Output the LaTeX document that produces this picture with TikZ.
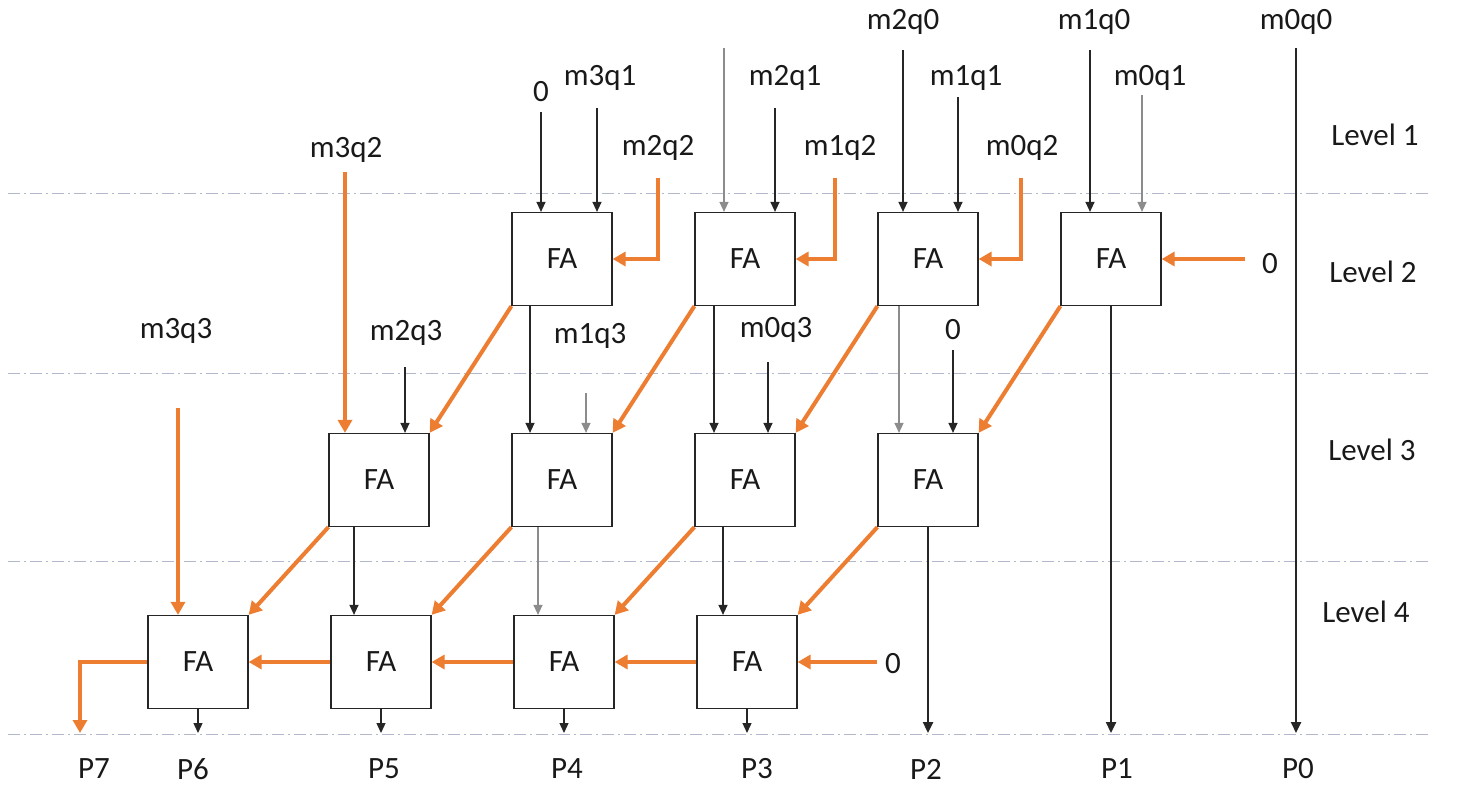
\documentclass[tikz,border=0pt]{standalone}
\usepackage{fontspec}
\setmainfont{Carlito}
\usetikzlibrary{arrows.meta,calc}
\definecolor{orng}{RGB}{237,125,49}
\definecolor{lvlc}{RGB}{178,184,204}
\begin{document}
\begin{tikzpicture}[x=0.5pt,y=-0.5pt,
  fa/.style={draw=black!85,line width=0.6pt,minimum width=50pt,minimum height=46.5pt,
    inner sep=0pt,font=\fontsize{15.5}{16}\selectfont,text=black!90},
  lbl/.style={font=\fontsize{15.5}{16}\selectfont,inner sep=0pt,text=black!90},
  blk/.style={draw=black!85,line width=0.65pt,-{Triangle[length=5pt,width=4.5pt]}},
  gry/.style={draw=black!45,line width=0.65pt,-{Triangle[length=5pt,width=4.5pt]}},
  thk/.style={draw=black!85,line width=1.2pt,-{Triangle[length=5.5pt,width=5pt]}},
  org/.style={draw=orng,line width=2pt,-{Triangle[length=6.5pt,width=7pt]}},
  lvl/.style={draw=lvlc,line width=0.5pt,dash pattern=on 6pt off 2pt on 1pt off 2pt}]

\useasboundingbox (0,0) rectangle (1478,787);

% level separators
\coordinate (l1a) at (8,193);  \coordinate (l1b) at (1430,193);
\coordinate (l2a) at (8,373);  \coordinate (l2b) at (1430,373);
\coordinate (l3a) at (8,561);  \coordinate (l3b) at (1430,561);
\coordinate (l4a) at (8,734);  \coordinate (l4b) at (1430,734);
\draw[lvl] (l1a) -- (l1b);
\draw[lvl] (l2a) -- (l2b);
\draw[lvl] (l3a) -- (l3b);
\draw[lvl] (l4a) -- (l4b);
\coordinate (bot) at (0,733);

% level labels
\node[lbl] (lv1) at (1375,135) {Level 1};
\node[lbl] (lv2) at (1373,272) {Level 2};
\node[lbl] (lv3) at (1372,450) {Level 3};
\node[lbl] (lv4) at (1366,612) {Level 4};

% full adders
\node[fa] (B1) at (562,259) {FA};
\node[fa] (B2) at (745,259) {FA};
\node[fa] (B3) at (928,259) {FA};
\node[fa] (B4) at (1111,259) {FA};
\node[fa] (C1) at (379,480) {FA};
\node[fa] (C2) at (562,480) {FA};
\node[fa] (C3) at (745,480) {FA};
\node[fa] (C4) at (928,480) {FA};
\node[fa] (D1) at (198,662) {FA};
\node[fa] (D2) at (381,662) {FA};
\node[fa] (D3) at (564,662) {FA};
\node[fa] (D4) at (747,662) {FA};

% partial product labels
\node[lbl] (t20) at (903,22) {m2q0};
\node[lbl] (t10) at (1094,22) {m1q0};
\node[lbl] (t00) at (1296,22) {m0q0};
\node[lbl] (tz1) at (541,92) {0};
\node[lbl] (t31) at (600,78) {m3q1};
\node[lbl] (t21) at (785,78) {m2q1};
\node[lbl] (t11) at (966,78) {m1q1};
\node[lbl] (t01) at (1150,78) {m0q1};
\node[lbl] (t32) at (346,150) {m3q2};
\node[lbl] (t22) at (658,148) {m2q2};
\node[lbl] (t12) at (840,148) {m1q2};
\node[lbl] (t02) at (1022,148) {m0q2};
\node[lbl] (t33) at (176,331) {m3q3};
\node[lbl] (t23) at (406,333) {m2q3};
\node[lbl] (t13) at (590,336) {m1q3};
\node[lbl] (t03) at (776,330) {m0q3};
\node[lbl] (tz3) at (953,330) {0};
\node[lbl] (tz2) at (1270,264) {0};
\node[lbl] (tz4) at (893,664) {0};

% product labels
\node[lbl] (P7) at (94,769) {P7};
\node[lbl] (P6) at (193,769) {P6};
\node[lbl] (P5) at (384,769) {P5};
\node[lbl] (P4) at (567,769) {P4};
\node[lbl] (P3) at (757,769) {P3};
\node[lbl] (P2) at (926,769) {P2};
\node[lbl] (P1) at (1117,769) {P1};
\node[lbl] (P0) at (1298,769) {P0};

% level 2 inputs
\coordinate (a1) at (541,112);  \draw[blk] (a1) -- (a1 |- B1.north);
\coordinate (a2) at (597,108);  \draw[blk] (a2) -- (a2 |- B1.north);
\coordinate (a3) at (724,48);   \draw[gry] (a3) -- (a3 |- B2.north);
\coordinate (a4) at (775,108);  \draw[blk] (a4) -- (a4 |- B2.north);
\coordinate (a5) at (903,50);   \draw[blk] (a5) -- (a5 |- B3.north);
\coordinate (a6) at (958,97);   \draw[blk] (a6) -- (a6 |- B3.north);
\coordinate (a7) at (1090,50);  \draw[blk] (a7) -- (a7 |- B4.north);
\coordinate (a8) at (1142,95);  \draw[gry] (a8) -- (a8 |- B4.north);
\coordinate (o1) at (658,178);  \draw[org] (o1) |- (B1.east);
\coordinate (o2) at (835,178);  \draw[org] (o2) |- (B2.east);
\coordinate (o3) at (1021,178); \draw[org] (o3) |- (B3.east);
\coordinate (o4) at (1245,259); \draw[org] (o4) -- (B4.east);

% level 3 inputs
\coordinate (b1) at (345,172);  \draw[org] (b1) -- (b1 |- C1.north);
\coordinate (b2) at (405,367);  \draw[blk] (b2) -- (b2 |- C1.north);
\coordinate (b3) at (530,0);    \draw[blk] (b3 |- B1.south) -- (b3 |- C2.north);
\coordinate (b4) at (586,393);  \draw[gry] (b4) -- (b4 |- C2.north);
\coordinate (b5) at (714,0);    \draw[blk] (b5 |- B2.south) -- (b5 |- C3.north);
\coordinate (b6) at (768,362);  \draw[blk] (b6) -- (b6 |- C3.north);
\coordinate (b7) at (899,0);    \draw[gry] (b7 |- B3.south) -- (b7 |- C4.north);
\coordinate (b8) at (953,350);  \draw[blk] (b8) -- (b8 |- C4.north);
\draw[org] (B1.south west) -- (C1.north east);
\draw[org] (B2.south west) -- (C2.north east);
\draw[org] (B3.south west) -- (C3.north east);
\draw[org] (B4.south west) -- (C4.north east);

% level 4 inputs
\coordinate (c1) at (178,408);  \draw[org] (c1) -- (c1 |- D1.north);
\coordinate (c2) at (354,0);    \draw[blk] (c2 |- C1.south) -- (c2 |- D2.north);
\coordinate (c3) at (538,0);    \draw[gry] (c3 |- C2.south) -- (c3 |- D3.north);
\coordinate (c4) at (723,0);    \draw[blk] (c4 |- C3.south) -- (c4 |- D4.north);
\draw[org] (C1.south west) -- (D1.north east);
\draw[org] (C2.south west) -- (D2.north east);
\draw[org] (C3.south west) -- (D3.north east);
\draw[org] (C4.south west) -- (D4.north east);

% carry chain
\coordinate (d0) at (877,662);  \draw[org] (d0) -- (D4.east);
\draw[org] (D4.west) -- (D3.east);
\draw[org] (D3.west) -- (D2.east);
\draw[org] (D2.west) -- (D1.east);
\coordinate (e7) at (80,733);   \draw[org] (D1.west) -| (e7);

% products
\draw[blk] (D1.south) -- (D1.south |- bot);
\draw[blk] (D2.south) -- (D2.south |- bot);
\draw[blk] (D3.south) -- (D3.south |- bot);
\draw[blk] (D4.south) -- (D4.south |- bot);
\draw[thk] (C4.south) -- (C4.south |- bot);
\draw[thk] (B4.south) -- (B4.south |- bot);
\coordinate (s0) at (1296,48);  \draw[thk] (s0) -- (s0 |- bot);
\end{tikzpicture}
\end{document}
